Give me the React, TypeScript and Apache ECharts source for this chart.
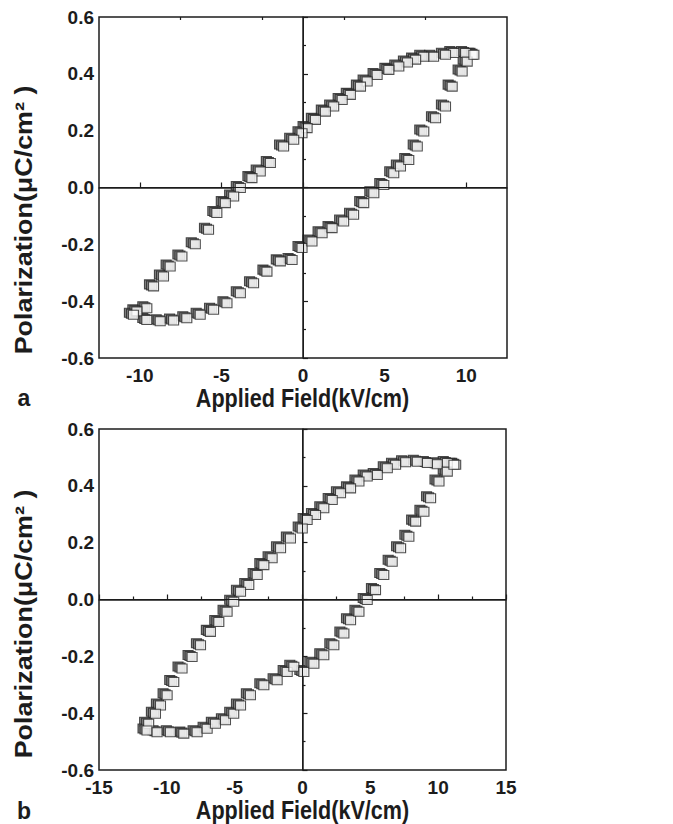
import React, { useEffect, useRef } from "react";
import * as echarts from "echarts";

// ---- Panel a: hysteresis loop (field kV/cm, polarization µC/cm²) ----
const aUpperField = [10.37, 9.96, 9.24, 8.73, 8.0, 7.4, 6.9, 6.4, 5.87, 5.26, 4.54, 3.93, 3.52, 2.9, 2.4, 1.88, 1.37, 0.76, 0.25, -0.06, -0.57, -1.19, -2.0, -2.62, -3.13, -3.84, -4.25, -4.76, -5.28, -5.79, -6.6, -7.42, -8.14, -8.55, -9.16, -9.57, -10.18];
const aUpperPol = [0.467, 0.473, 0.473, 0.467, 0.46, 0.46, 0.45, 0.44, 0.426, 0.414, 0.396, 0.373, 0.355, 0.326, 0.308, 0.285, 0.267, 0.238, 0.209, 0.191, 0.168, 0.144, 0.086, 0.056, 0.033, -0.002, -0.032, -0.055, -0.09, -0.149, -0.2, -0.243, -0.278, -0.313, -0.348, -0.425, -0.436];
const aLowerField = [-10.39, -9.57, -8.75, -7.93, -7.12, -6.3, -5.48, -4.66, -3.84, -3.03, -2.21, -1.39, -0.67, -0.06, 0.55, 1.17, 1.78, 2.49, 3.1, 3.72, 4.34, 4.95, 5.56, 5.97, 6.48, 7.0, 7.4, 8.12, 8.73, 9.14, 9.75, 10.06, 10.47];
const aLowerPol = [-0.448, -0.466, -0.471, -0.468, -0.46, -0.448, -0.43, -0.407, -0.372, -0.337, -0.296, -0.26, -0.255, -0.213, -0.19, -0.161, -0.143, -0.12, -0.096, -0.055, -0.02, 0.009, 0.05, 0.074, 0.097, 0.144, 0.197, 0.244, 0.285, 0.355, 0.408, 0.443, 0.467];

// ---- Panel b ----
const bUpperField = [11.29, 10.67, 9.93, 9.2, 8.46, 7.6, 6.86, 6.25, 5.51, 4.77, 4.16, 3.54, 2.8, 2.19, 1.57, 0.96, 0.34, -0.02, -0.89, -1.62, -2.24, -2.85, -3.34, -3.96, -4.57, -5.07, -5.56, -6.17, -6.79, -7.52, -8.14, -8.88, -9.49, -9.98, -10.47, -10.84, -11.34];
const bUpperPol = [0.474, 0.48, 0.476, 0.48, 0.485, 0.483, 0.474, 0.462, 0.438, 0.433, 0.415, 0.391, 0.374, 0.35, 0.321, 0.297, 0.28, 0.25, 0.215, 0.18, 0.145, 0.121, 0.086, 0.051, 0.027, -0.008, -0.043, -0.079, -0.114, -0.161, -0.202, -0.243, -0.29, -0.337, -0.373, -0.402, -0.437];
const bLowerField = [-11.46, -10.72, -9.74, -8.75, -7.77, -7.03, -6.42, -5.68, -5.07, -4.57, -3.84, -2.85, -1.87, -1.13, -0.64, 0.1, 0.84, 1.57, 2.31, 3.05, 3.54, 4.16, 4.77, 5.38, 5.99, 6.61, 7.23, 7.84, 8.34, 8.95, 9.44, 10.06, 10.67, 11.16];
const bLowerPol = [-0.461, -0.467, -0.467, -0.472, -0.467, -0.455, -0.437, -0.425, -0.402, -0.373, -0.337, -0.302, -0.284, -0.255, -0.237, -0.255, -0.226, -0.196, -0.161, -0.12, -0.073, -0.043, -0.002, 0.033, 0.086, 0.133, 0.18, 0.221, 0.274, 0.309, 0.356, 0.415, 0.45, 0.474];

// ---- Axis ticks ----
const aFieldLabels = [-10, -5, 0, 5, 10];
const aFieldMinor = [-7.5, -2.5, 2.5, 7.5];

const X_TITLE = "Applied Field(kV/cm)";
const Y_TITLE = "Polarization(\u03bcC/cm\u00b2 )";

const INK = "#1c1c1c";
const FONT = "'Liberation Sans', Arial, Helvetica, sans-serif";

function zip(xs: number[], ys: number[]) {
  return xs.map((x, i) => [x, ys[i]]);
}

export default function App() {
  const ref = useRef<HTMLDivElement>(null);

  useEffect(() => {
    document.body.style.margin = "0";
    if (!ref.current) return;
    const chart = echarts.init(ref.current, undefined, { renderer: "svg" });

    const labelStyle = {
      fontFamily: FONT,
      fontWeight: "bold" as const,
      fontSize: 19,
      color: INK,
    };
    const yAxisBase = (gridIndex: number) => ({
      type: "value" as const,
      gridIndex,
      min: -0.6,
      max: 0.6,
      interval: 0.2,
      axisLine: { show: true, lineStyle: { color: INK, width: 1.5 } },
      axisTick: { show: true, inside: true, length: 5, lineStyle: { color: INK, width: 1.2 } },
      minorTick: { show: true, splitNumber: 2, length: 3, lineStyle: { color: INK, width: 1.2 } },
      splitLine: { show: false },
      axisLabel: {
        ...labelStyle,
        margin: 5,
        formatter: (v: number) => (Math.abs(v) < 1e-9 ? "0.0" : v.toFixed(1)),
      },
    });

    const zeroLine = (xi: number, yi: number) => ({
      type: "scatter" as const,
      xAxisIndex: xi,
      yAxisIndex: yi,
      data: [],
      z: 1,
      silent: true,
      markLine: {
        silent: true,
        symbol: "none",
        label: { show: false },
        lineStyle: { color: INK, width: 1, type: "solid" as const },
        data: [{ xAxis: 0 }, { yAxis: 0 }],
      },
    });

    // layered square markers: gray stacked copies behind a white square
    const layers = [
      { offset: [-4, -2], color: "#6e6e6e", z: 2 },
      { offset: [-2, -1], color: "#8a8a8a", z: 3 },
      { offset: [0, 0], color: "#ffffff", z: 4 },
    ];
    const points = (xi: number, yi: number, data: number[][]) =>
      layers.map((l) => ({
        type: "scatter" as const,
        xAxisIndex: xi,
        yAxisIndex: yi,
        data,
        z: l.z,
        symbol: "rect",
        symbolSize: [10, 9],
        symbolOffset: l.offset,
        itemStyle: { color: l.color, borderColor: "#262626", borderWidth: 1.1 },
      }));

    chart.setOption({
      animation: false,
      backgroundColor: "#ffffff",
      grid: [
        { left: 99, top: 17, width: 408, height: 341, show: true, borderColor: INK, borderWidth: 1.5, backgroundColor: "transparent" },
        { left: 99, top: 429, width: 407, height: 341, show: true, borderColor: INK, borderWidth: 1.5, backgroundColor: "transparent" },
      ],
      xAxis: [
        {
          type: "value",
          gridIndex: 0,
          min: -12.5,
          max: 12.5,
          axisLine: { show: true, lineStyle: { color: INK, width: 1.5 } },
          axisTick: { show: true, inside: true, length: 5, customValues: aFieldLabels, lineStyle: { color: INK, width: 1.2 } },
          axisLabel: { ...labelStyle, margin: 8, customValues: aFieldLabels },
          splitLine: { show: false },
        },
        {
          type: "value",
          gridIndex: 0,
          min: -12.5,
          max: 12.5,
          axisLine: { show: false },
          axisTick: { show: true, inside: true, length: 3, customValues: aFieldMinor, lineStyle: { color: INK, width: 1.2 } },
          axisLabel: { show: false },
          splitLine: { show: false },
        },
        {
          type: "value",
          gridIndex: 1,
          min: -15,
          max: 15,
          interval: 5,
          axisLine: { show: true, lineStyle: { color: INK, width: 1.5 } },
          axisTick: { show: true, inside: true, length: 5, lineStyle: { color: INK, width: 1.2 } },
          minorTick: { show: true, splitNumber: 2, length: 3, lineStyle: { color: INK, width: 1.2 } },
          axisLabel: { ...labelStyle, margin: 8 },
          splitLine: { show: false },
        },
      ],
      yAxis: [yAxisBase(0), yAxisBase(1)],
      series: [
        zeroLine(0, 0),
        ...points(0, 0, zip(aUpperField, aUpperPol)),
        ...points(0, 0, zip(aLowerField, aLowerPol)),
        zeroLine(2, 1),
        ...points(2, 1, zip(bUpperField, bUpperPol)),
        ...points(2, 1, zip(bLowerField, bLowerPol)),
      ],
      graphic: [
        {
          type: "text",
          x: 24,
          y: 220,
          rotation: Math.PI / 2,
          scaleX: 1.12,
          style: { text: Y_TITLE, font: `bold 24px ${FONT}`, fill: INK, textAlign: "center", textVerticalAlign: "middle" },
        },
        {
          type: "text",
          x: 24,
          y: 624,
          rotation: Math.PI / 2,
          scaleX: 1.12,
          style: { text: Y_TITLE, font: `bold 24px ${FONT}`, fill: INK, textAlign: "center", textVerticalAlign: "middle" },
        },
        {
          type: "text",
          x: 302.5,
          y: 398,
          scaleX: 0.83,
          style: { text: X_TITLE, font: `bold 26px ${FONT}`, fill: INK, textAlign: "center", textVerticalAlign: "middle" },
        },
        {
          type: "text",
          x: 302.5,
          y: 810,
          scaleX: 0.83,
          style: { text: X_TITLE, font: `bold 26px ${FONT}`, fill: INK, textAlign: "center", textVerticalAlign: "middle" },
        },
        {
          type: "text",
          x: 24,
          y: 398,
          style: { text: "a", font: `bold 23px ${FONT}`, fill: INK, textAlign: "center", textVerticalAlign: "middle" },
        },
        {
          type: "text",
          x: 24,
          y: 811,
          style: { text: "b", font: `bold 23px ${FONT}`, fill: INK, textAlign: "center", textVerticalAlign: "middle" },
        },
      ],
    });

    return () => chart.dispose();
  }, []);

  return <div ref={ref} style={{ width: 673, height: 824 }} />;
}
